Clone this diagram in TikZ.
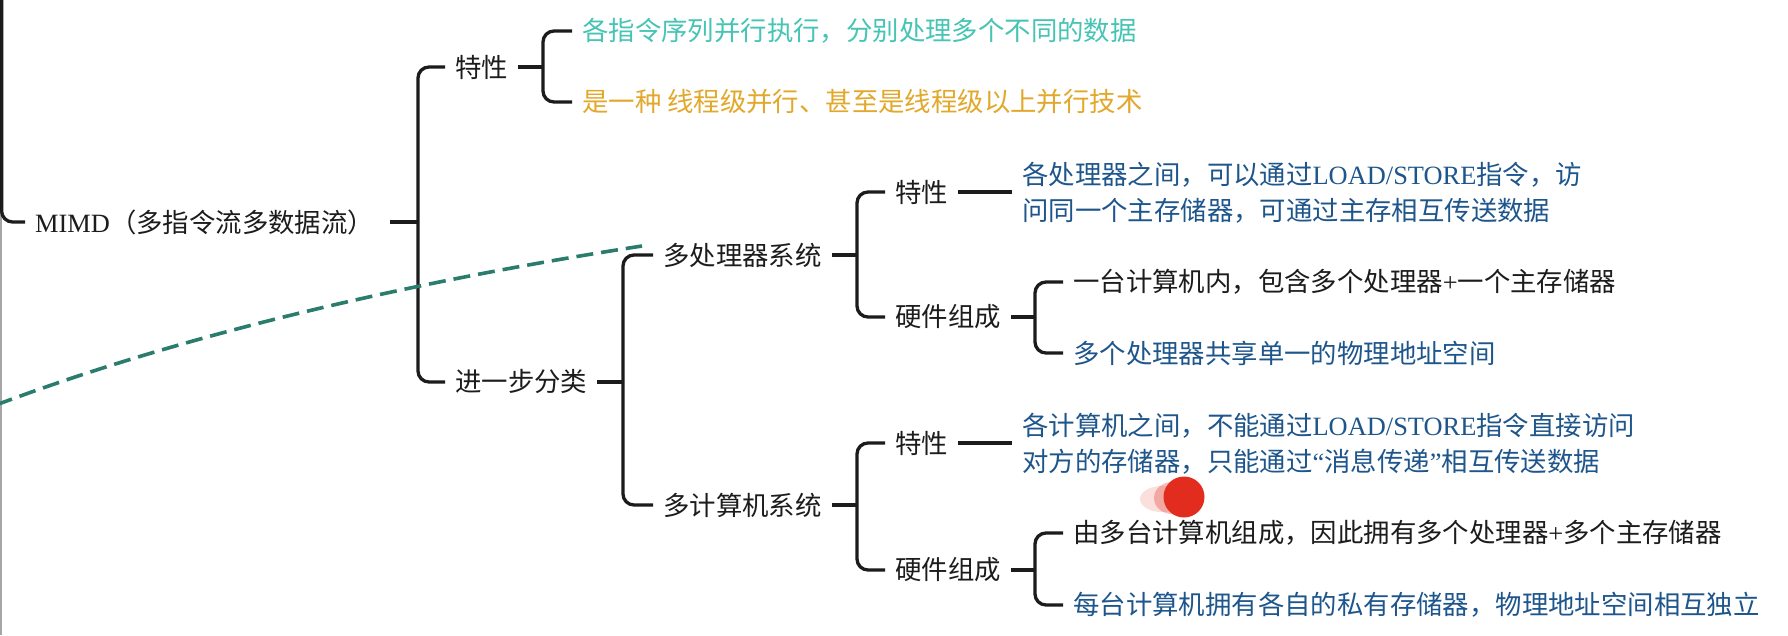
\documentclass[tikz,border=0pt]{standalone}
\usepackage{fontspec}
\setmainfont{Liberation Serif}
\newfontfamily\cjk{Noto Sans CJK SC}
\definecolor{ink}{RGB}{28,28,28}
\definecolor{cyanT}{RGB}{70,196,180}
\definecolor{orangeT}{RGB}{226,168,42}
\definecolor{blueT}{RGB}{30,86,140}
\definecolor{tealD}{RGB}{42,124,108}
\definecolor{reddot}{RGB}{226,44,30}
\begin{document}
\begin{tikzpicture}[x=1pt,y=-1pt,
  txt/.style={anchor=west, inner xsep=10pt, inner ysep=0pt,
    font=\cjk\fontsize{26.4}{36}\selectfont, text=ink, align=left},
  conn/.style={line width=3.3pt, draw=ink},
  br/.style={conn, rounded corners=11pt},
  dashline/.style={draw=tealD, line width=3.6pt, dash pattern=on 17pt off 8pt}]
\fill[white] (0,0) rectangle (1788,635);
\useasboundingbox (0,0) rectangle (1788,635);
\draw[gray!70, line width=1.5pt] (0.75,0) -- (0.75,635);

% nodes
\coordinate (root) at (1.6,-10);
\node[txt] (mimd) at (25,222) {{\rmfamily MIMD}（多指令流多数据流）};
\coordinate (j1) at (418,222);
\node[txt] (t1) at (445,67) {特性};
\node[txt] (t2) at (445,382) {进一步分类};
\coordinate (j2) at (543,67);
\node[txt,text=cyanT] (c1) at (572,31) {各指令序列并行执行，分别处理多个不同的数据};
\node[txt,text=orangeT] (c2) at (572,102) {是一种 线程级并行、甚至是线程级以上并行技术};
\coordinate (j3) at (623,382);
\node[txt] (mp) at (653,255) {多处理器系统};
\node[txt] (mc) at (653,505) {多计算机系统};
\coordinate (j4) at (857,255);
\node[txt] (mpt) at (885,192) {特性};
\node[txt] (mph) at (885,317) {硬件组成};
\node[txt,text=blueT] (mptd) at (1012,193) {各处理器之间，可以通过{\rmfamily LOAD/STORE}指令，访\\问同一个主存储器，可通过主存相互传送数据};
\coordinate (j5) at (1035,317);
\node[txt] (mph1) at (1063,282) {一台计算机内，包含多个处理器{\rmfamily +}一个主存储器};
\node[txt,text=blueT] (mph2) at (1063,353) {多个处理器共享单一的物理地址空间};
\coordinate (j6) at (857,505);
\node[txt] (mct) at (885,443) {特性};
\node[txt] (mch) at (885,570) {硬件组成};
\node[txt,text=blueT] (mctd) at (1012,444) {各计算机之间，不能通过{\rmfamily LOAD/STORE}指令直接访问\\对方的存储器，只能通过{\rmfamily “}消息传递{\rmfamily ”}相互传送数据};
\coordinate (j7) at (1035,570);
\node[txt] (mch1) at (1063,533) {由多台计算机组成，因此拥有多个处理器{\rmfamily +}多个主存储器};
\node[txt,text=blueT] (mch2) at (1063,605) {每台计算机拥有各自的私有存储器，物理地址空间相互独立};

% connectors
\draw[br] (root) |- (mimd.west);
\draw[conn, shorten <=6pt] (mimd.east) -- (j1);
\draw[br] (j1) |- (t1.west);
\draw[br] (j1) |- (t2.west);
\draw[conn] (t1.east) -- (j2);
\draw[br] (j2) |- (c1.west);
\draw[br] (j2) |- (c2.west);
\draw[conn] (t2.east) -- (j3);
\draw[br] (j3) |- (mp.west);
\draw[br] (j3) |- (mc.west);
\draw[conn] (mp.east) -- (j4);
\draw[br] (j4) |- (mpt.west);
\draw[br] (j4) |- (mph.west);
\draw[conn] (mpt.east) -- (mpt.east -| mptd.west);
\draw[conn] (mph.east) -- (j5);
\draw[br] (j5) |- (mph1.west);
\draw[br] (j5) |- (mph2.west);
\draw[conn] (mc.east) -- (j6);
\draw[br] (j6) |- (mct.west);
\draw[br] (j6) |- (mch.west);
\draw[conn] (mct.east) -- (mct.east -| mctd.west);
\draw[conn] (mch.east) -- (j7);
\draw[br] (j7) |- (mch1.west);
\draw[br] (j7) |- (mch2.west);

% annotation: dashed curve and pointer dot
\coordinate (dstart) at (-4,405);
\coordinate (dend) at (642,246);
\draw[dashline] (dstart) .. controls (166,341) and (383,286) .. (dend);
\fill[reddot, opacity=0.15] (1162,499) ellipse (22pt and 13pt);
\fill[reddot, opacity=0.3] (1172,498) ellipse (18pt and 16pt);
\fill[reddot] (1184,497) circle (20.5pt);
\end{tikzpicture}
\end{document}
